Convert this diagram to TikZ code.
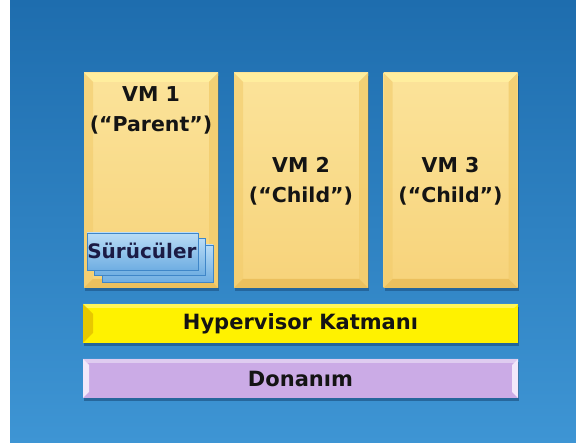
\documentclass[tikz,border=0pt]{standalone}
\usepackage{fontspec}
\setmainfont{DejaVu Sans}
\usetikzlibrary{shadows}
\definecolor{bgtop}{HTML}{1E6DAE}
\definecolor{bgbot}{HTML}{3E95D4}
\definecolor{vmA}{HTML}{FBE39A}
\definecolor{vmB}{HTML}{F7D37A}
\definecolor{vmtop}{HTML}{FFEE9E}
\definecolor{vmside}{HTML}{F2CC6C}
\definecolor{vmbot}{HTML}{E7B852}
\definecolor{hyp}{HTML}{FFF200}
\definecolor{hypedge}{HTML}{E8C800}
\definecolor{don}{HTML}{CBABE6}
\definecolor{donedge}{HTML}{F2E8FA}
\definecolor{drvA}{HTML}{B9DCF6}
\definecolor{drvB}{HTML}{6FAEE2}
\definecolor{drvline}{HTML}{3F86C8}
\definecolor{txt}{HTML}{141414}
\definecolor{drvtxt}{HTML}{1B1B45}
\definecolor{shadowc}{HTML}{123F6A}
\tikzset{
  vmbox/.style={rectangle, inner sep=0pt, minimum width=134pt, minimum height=215pt,
    top color=vmA, bottom color=vmB,
    drop shadow={shadow xshift=1pt, shadow yshift=-3pt, opacity=0.45, fill=shadowc},
    path picture={
      \fill[vmtop] (path picture bounding box.north west) -- (path picture bounding box.north east)
        -- ([xshift=-9pt,yshift=-9pt]path picture bounding box.north east)
        -- ([xshift=9pt,yshift=-9pt]path picture bounding box.north west) -- cycle;
      \fill[vmside,opacity=0.6] (path picture bounding box.north west) -- ([xshift=9pt,yshift=-9pt]path picture bounding box.north west)
        -- ([xshift=9pt,yshift=9pt]path picture bounding box.south west) -- (path picture bounding box.south west) -- cycle;
      \fill[vmside,opacity=0.8] (path picture bounding box.north east) -- ([xshift=-9pt,yshift=-9pt]path picture bounding box.north east)
        -- ([xshift=-9pt,yshift=9pt]path picture bounding box.south east) -- (path picture bounding box.south east) -- cycle;
      \fill[vmbot,opacity=0.7] (path picture bounding box.south west) -- ([xshift=9pt,yshift=9pt]path picture bounding box.south west)
        -- ([xshift=-9pt,yshift=9pt]path picture bounding box.south east) -- (path picture bounding box.south east) -- cycle;
    }},
  vmtext/.style={font=\bfseries\fontsize{20.5}{30}\selectfont, text=txt, align=center, inner sep=0pt},
  barbox/.style={rectangle, inner sep=0pt, minimum width=435pt, minimum height=39pt,
    font=\bfseries\fontsize{21}{24}\selectfont, text=txt,
    drop shadow={shadow xshift=1pt, shadow yshift=-3pt, opacity=0.5, fill=shadowc}},
  drvbox/.style={rectangle, inner sep=0pt, minimum width=111pt, minimum height=37pt,
    top color=drvA, bottom color=drvB, draw=drvline, line width=0.8pt},
  drvtext/.style={font=\bfseries\fontsize{20}{22}\selectfont, text=drvtxt, inner sep=0pt},
}
\begin{document}
\begin{tikzpicture}[x=1pt,y=-1pt]
  \useasboundingbox (0,0) rectangle (576,443);
  \fill[white] (0,0) rectangle (576,443);
  \shade[top color=bgtop, bottom color=bgbot] (10,1) rectangle (576,443);

  % VM boxes
  \node[vmbox] (vm1) at (151,180.5) {};
  \node[vmbox] (vm2) at (301,180.5) {};
  \node[vmbox] (vm3) at (450.5,180.5) {};

  \node[vmtext, anchor=north] (vm1t) at ([yshift=-14pt]vm1.north) {VM 1\\(“Parent”)};
  \node[vmtext] (vm2t) at ([yshift=-1pt]vm2.center) {VM 2\\(“Child”)};
  \node[vmtext] (vm3t) at ([yshift=-1pt]vm3.center) {VM 3\\(“Child”)};

  % drivers stack
  \node[drvbox] (drv3) at (157.5,263.5) {};
  \node[drvbox] (drv2) at (150,257) {};
  \node[drvbox] (drv1) at (142.5,251.5) {};
  \node[drvtext, anchor=west] (drvt) at ([xshift=0.5pt,yshift=1pt]drv1.west) {Sürücüler};

  % hypervisor
  \node[barbox, fill=hyp,
    path picture={
      \fill[hypedge] (path picture bounding box.north west) -- ([xshift=10pt,yshift=-10pt]path picture bounding box.north west)
        -- ([xshift=10pt,yshift=10pt]path picture bounding box.south west) -- (path picture bounding box.south west) -- cycle;
      \fill[white,opacity=0.35] (path picture bounding box.north west) -- (path picture bounding box.north east)
        -- ([xshift=-4pt,yshift=-4pt]path picture bounding box.north east) -- ([xshift=4pt,yshift=-4pt]path picture bounding box.north west) -- cycle;
    }] (hyp) at (300.5,323.5) {Hypervisor Katmanı};

  % hardware
  \node[barbox, fill=don,
    path picture={
      \fill[donedge] (path picture bounding box.north west) -- ([xshift=6pt,yshift=-6pt]path picture bounding box.north west)
        -- ([xshift=6pt,yshift=6pt]path picture bounding box.south west) -- (path picture bounding box.south west) -- cycle;
      \fill[donedge] (path picture bounding box.north east) -- ([xshift=-6pt,yshift=-6pt]path picture bounding box.north east)
        -- ([xshift=-6pt,yshift=6pt]path picture bounding box.south east) -- (path picture bounding box.south east) -- cycle;
      \fill[white,opacity=0.4] (path picture bounding box.north west) -- (path picture bounding box.north east)
        -- ([xshift=-4pt,yshift=-4pt]path picture bounding box.north east) -- ([xshift=4pt,yshift=-4pt]path picture bounding box.north west) -- cycle;
    }] (don) at (300.5,378.5) {Donanım};
\end{tikzpicture}
\end{document}
